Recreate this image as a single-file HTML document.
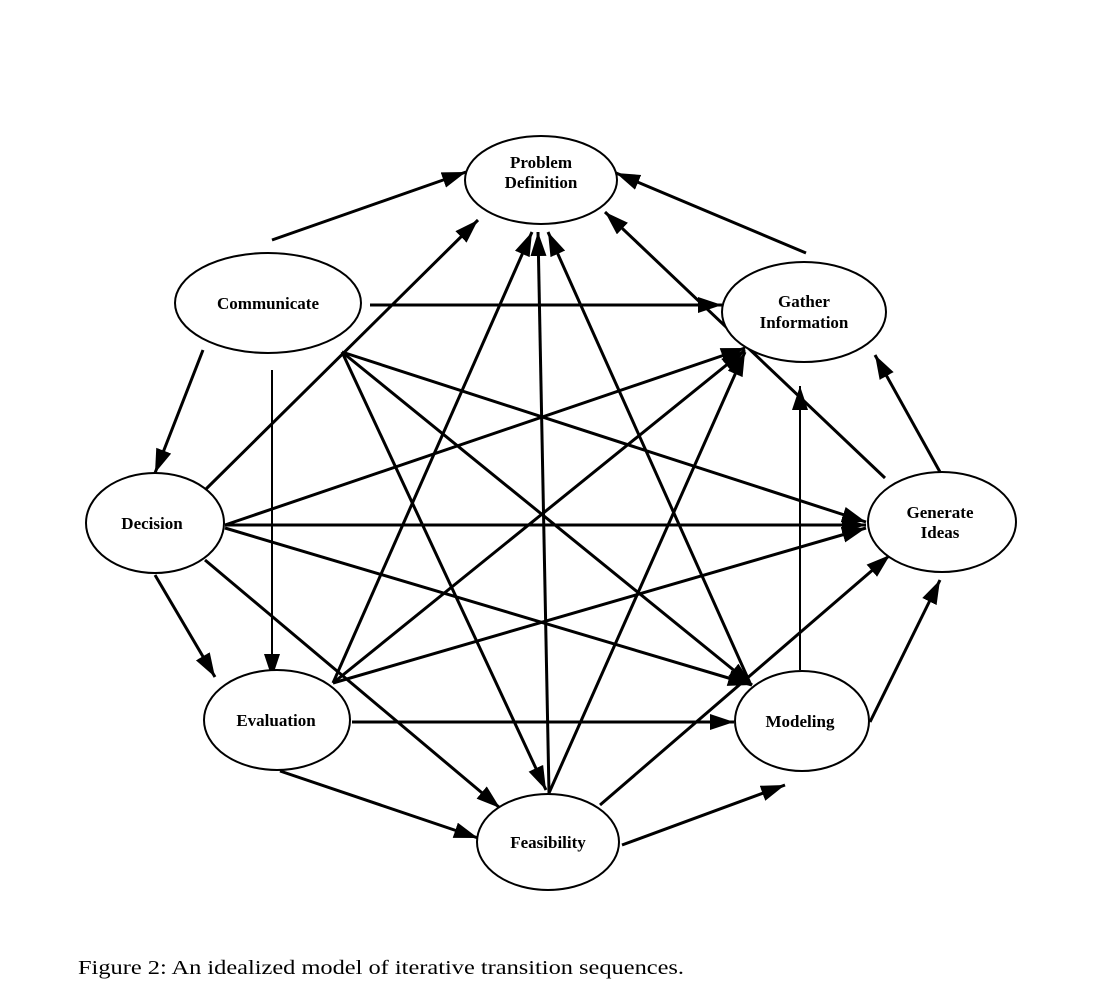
<!DOCTYPE html>
<html><head><meta charset="utf-8"><style>
html,body{margin:0;padding:0;background:#fff;}
svg{display:block;}
text{font-family:"Liberation Serif",serif;}
.n{font-weight:bold;font-size:17px;text-anchor:middle;}
</style></head><body>
<svg width="1120" height="1000" viewBox="0 0 1120 1000" xmlns="http://www.w3.org/2000/svg">
<defs>
<marker id="a" markerUnits="userSpaceOnUse" markerWidth="28" markerHeight="20" refX="24" refY="8" orient="auto">
<path d="M0,0 L24,8 L0,16 Z" fill="#000"/>
</marker>
</defs>
<g stroke="#000" stroke-width="3" fill="none" marker-end="url(#a)">
<line x1="272" y1="240" x2="466" y2="172"/>
<line x1="806" y1="253" x2="616" y2="173"/>
<line x1="370" y1="305" x2="722" y2="305"/>
<line x1="203" y1="350" x2="155" y2="473"/>
<line x1="342" y1="352" x2="546" y2="790"/>
<line x1="342" y1="352" x2="752" y2="685"/>
<line x1="342" y1="352" x2="866" y2="522"/>
<line x1="205" y1="490" x2="478" y2="220"/>
<line x1="225" y1="525" x2="745" y2="348"/>
<line x1="225" y1="525" x2="866" y2="525"/>
<line x1="225" y1="528" x2="752" y2="685"/>
<line x1="205" y1="560" x2="500" y2="808"/>
<line x1="155" y1="575" x2="215" y2="677"/>
<line x1="333" y1="683" x2="532" y2="232"/>
<line x1="333" y1="683" x2="745" y2="350"/>
<line x1="333" y1="683" x2="866" y2="528"/>
<line x1="352" y1="722" x2="734" y2="722"/>
<line x1="280" y1="771" x2="478" y2="838"/>
<line x1="549" y1="793" x2="538" y2="232"/>
<line x1="549" y1="793" x2="745" y2="352"/>
<line x1="750" y1="683" x2="548" y2="232"/>
<line x1="600" y1="805" x2="890" y2="555"/>
<line x1="622" y1="845" x2="785" y2="785"/>
<line x1="885" y1="478" x2="605" y2="212"/>
<line x1="940" y1="472" x2="875" y2="355"/>
<line x1="870" y1="722" x2="940" y2="580"/>
</g>
<g stroke="#000" stroke-width="2" fill="none" marker-end="url(#a)">
<line x1="272" y1="370" x2="272" y2="678"/>
<line x1="800" y1="670" x2="800" y2="386"/>
</g>
<g stroke="#000" stroke-width="2" fill="#fff">
<ellipse cx="541" cy="180" rx="76" ry="44"/>
<ellipse cx="268" cy="303" rx="93" ry="50"/>
<ellipse cx="804" cy="312" rx="82" ry="50"/>
<ellipse cx="155" cy="523" rx="69" ry="50"/>
<ellipse cx="942" cy="522" rx="74" ry="50"/>
<ellipse cx="277" cy="720" rx="73" ry="50"/>
<ellipse cx="802" cy="721" rx="67" ry="50"/>
<ellipse cx="548" cy="842" rx="71" ry="48"/>
</g>
<g class="n">
<text class="n" x="541" y="168">Problem</text>
<text class="n" x="541" y="188">Definition</text>
<text class="n" x="268" y="309">Communicate</text>
<text class="n" x="804" y="307">Gather</text>
<text class="n" x="804" y="328">Information</text>
<text class="n" x="152" y="529">Decision</text>
<text class="n" x="940" y="518">Generate</text>
<text class="n" x="940" y="538">Ideas</text>
<text class="n" x="276" y="726">Evaluation</text>
<text class="n" x="800" y="727">Modeling</text>
<text class="n" x="548" y="848">Feasibility</text>
</g>
<text x="78" y="974" font-size="20" textLength="606" lengthAdjust="spacingAndGlyphs">Figure 2:  An idealized model of iterative transition sequences.</text>
</svg>
</body></html>
